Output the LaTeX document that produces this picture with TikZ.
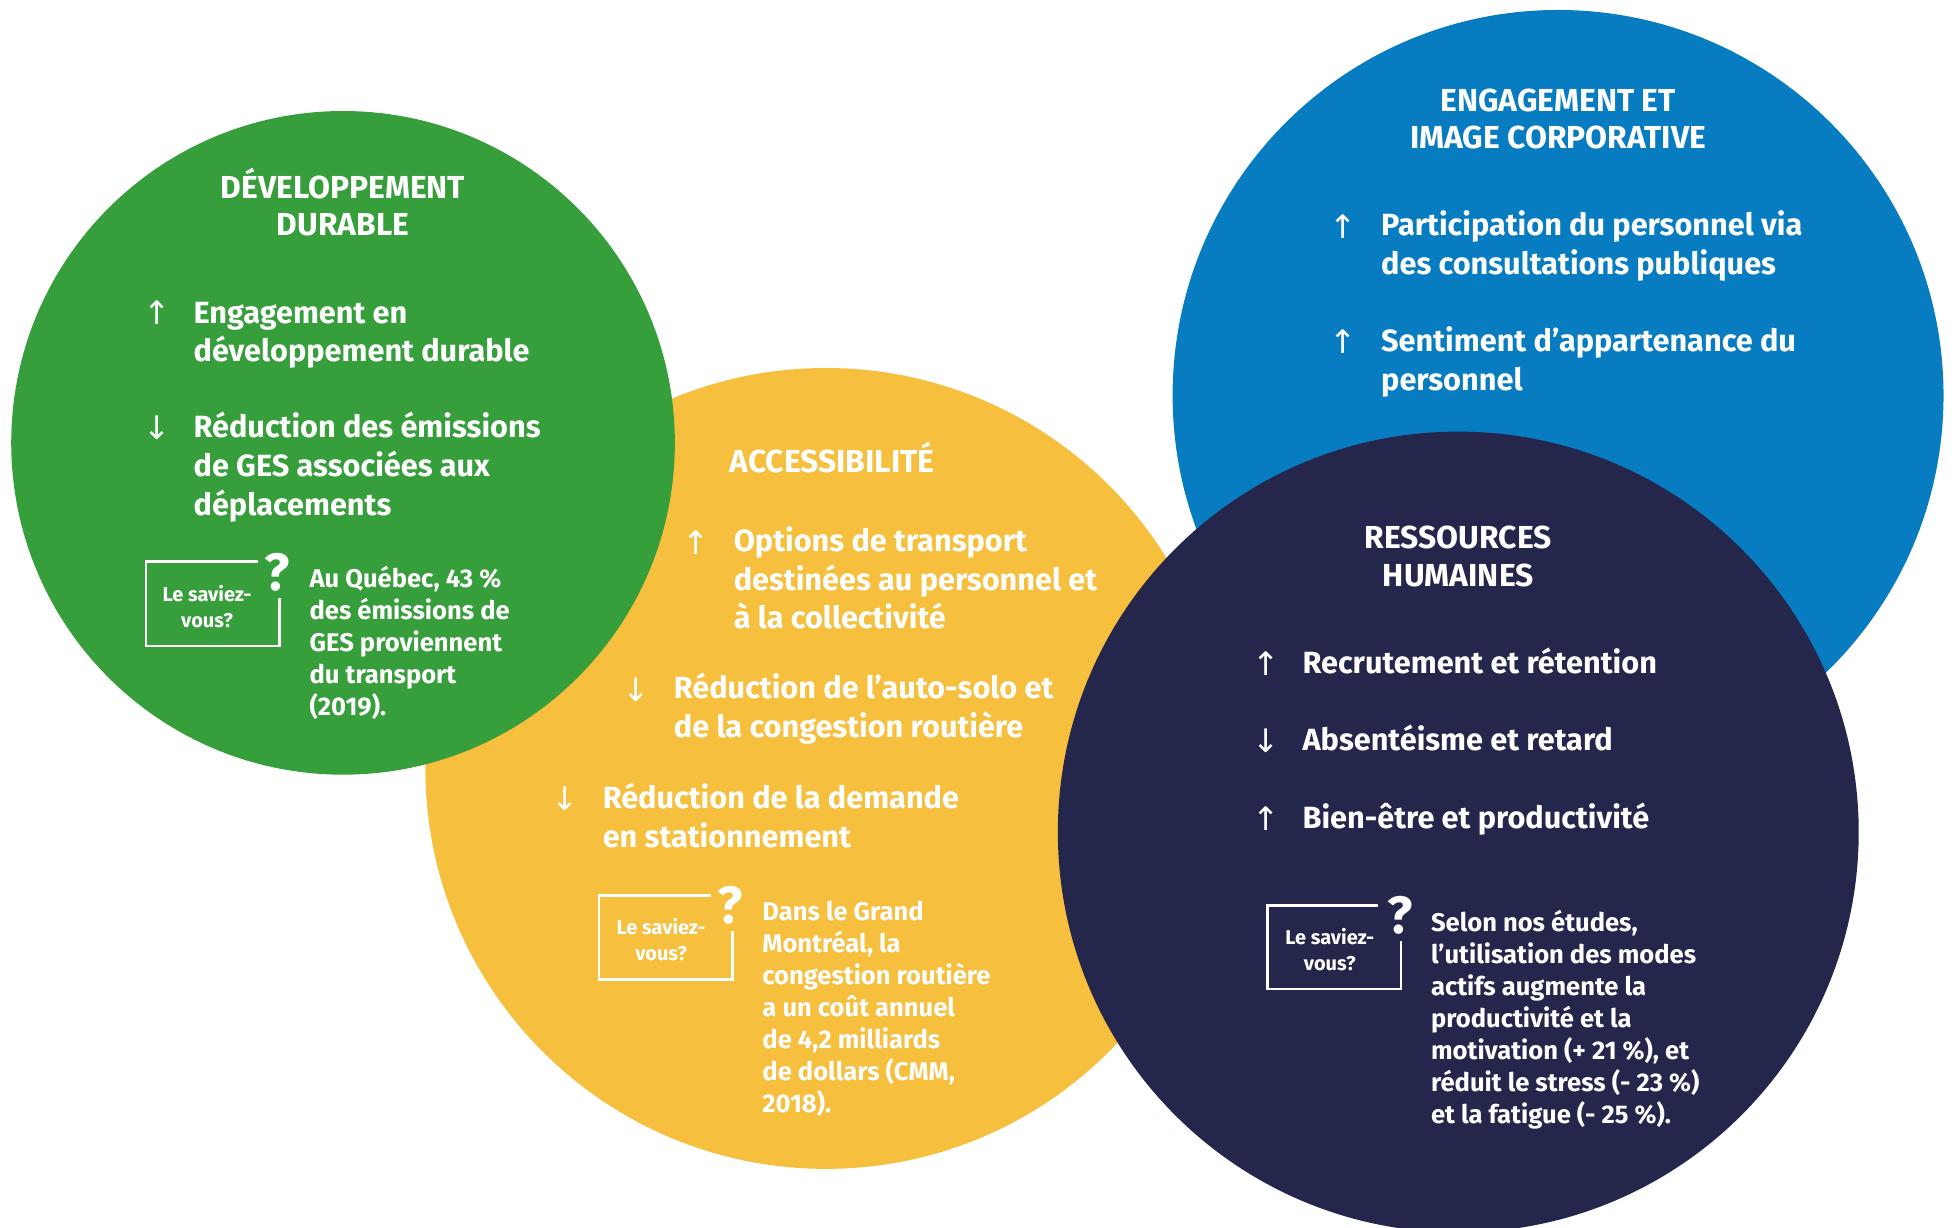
\documentclass[tikz,border=0pt]{standalone}
\usepackage{fontspec}
\setmainfont{Fira Sans}
\newfontfamily\symfont{DejaVu Sans}
\definecolor{cgreen}{RGB}{54,158,58}
\definecolor{cyellow}{RGB}{246,191,61}
\definecolor{cblue}{RGB}{8,124,193}
\definecolor{cnavy}{RGB}{36,38,76}
\tikzset{
  base/.style={text=white, inner sep=0pt},
  ttl/.style={base, align=center, anchor=base, font=\bfseries\fontsize{25.5}{30}\selectfont},
  item/.style={base, align=left, anchor=base west, font=\bfseries\fontsize{24.6}{31}\selectfont},
  fact/.style={base, align=left, anchor=base west, font=\bfseries\fontsize{20.5}{25.6}\selectfont},
  arr/.style={base, font=\symfont\fontsize{26}{26}\selectfont},
  quiz/.style={base, align=center, anchor=base, font=\bfseries\fontsize{16}{20.5}\selectfont},
  qmark/.style={base, font=\bfseries\fontsize{42}{42}\selectfont},
  boxline/.style={draw=white, line width=2pt},
}
\begin{document}
\begin{tikzpicture}[x=1pt,y=-1pt]
\useasboundingbox (0,0) rectangle (1568,984);
% circles
\fill[cyellow] (662,616) circle (321);
\fill[cgreen] (275,355) circle (266);
\fill[cblue] (1249,317) circle (309);
\fill[cnavy] (1169,667) circle (321);

% ---------- green ----------
\node[ttl] (gt) at (275,189) {DÉVELOPPEMENT\\DURABLE};
\node[arr] (ga1) at (126,251) {↑};
\node[item] (gi1) at (155,290) {Engagement en\\développement durable};
\node[arr] (ga2) at (126,343) {↓};
\node[item] (gi2) at (155,413) {Réduction des émissions\\de GES associées aux\\déplacements};
\draw[boxline] (207,450) -- (117,450) -- (117,518) -- (224,518) -- (224,479);
\node[qmark] (gq) at (222,459) {?};
\node[quiz] (gl) at (166,503) {Le saviez-\\vous?};
\node[fact] (gf) at (248,573.5) {Au Québec, 43 \%\\des émissions de\\GES proviennent\\du transport\\(2019).};

% ---------- yellow ----------
\node[ttl] (yt) at (667,379) {ACCESSIBILITÉ};
\node[arr] (ya1) at (558,435) {↑};
\node[item] (yi1) at (588,504) {Options de transport\\destinées au personnel et\\à la collectivité};
\node[arr] (ya2) at (510,553) {↓};
\node[item] (yi2) at (540,591) {Réduction de l’auto-solo et\\de la congestion routière};
\node[arr] (ya3) at (453,640) {↓};
\node[item] (yi3) at (483,679) {Réduction de la demande\\en stationnement};
\draw[boxline] (570,718) -- (480,718) -- (480,785) -- (587,785) -- (587,746);
\node[qmark] (yq) at (585,726) {?};
\node[quiz] (yl) at (530,770) {Le saviez-\\vous?};
\node[fact] (yf) at (611,891.5) {Dans le Grand\\Montréal, la\\congestion routière\\a un coût annuel\\de 4,2 milliards\\de dollars (CMM,\\2018).};

% ---------- blue ----------
\node[ttl] (bt) at (1249,119) {ENGAGEMENT ET\\IMAGE CORPORATIVE};
\node[arr] (ba1) at (1077,182) {↑};
\node[item] (bi1) at (1107,220) {Participation du personnel via\\des consultations publiques};
\node[arr] (ba2) at (1077,274) {↑};
\node[item] (bi2) at (1107,313) {Sentiment d’appartenance du\\personnel};

% ---------- navy ----------
\node[ttl] (nt) at (1169,470) {RESSOURCES\\HUMAINES};
\node[arr] (na1) at (1015,532) {↑};
\node[item] (ni1) at (1044,540) {Recrutement et rétention};
\node[arr] (na2) at (1015,594) {↓};
\node[item] (ni2) at (1044,602) {Absentéisme et retard};
\node[arr] (na3) at (1015,656) {↑};
\node[item] (ni3) at (1044,664) {Bien-être et productivité};
\draw[boxline] (1105,726) -- (1016,726) -- (1016,793) -- (1123,793) -- (1123,754);
\node[qmark] (nq) at (1122,734) {?};
\node[quiz] (nl) at (1066,778) {Le saviez-\\vous?};
\node[fact] (nf) at (1147,900.5) {Selon nos études,\\l’utilisation des modes\\actifs augmente la\\productivité et la\\motivation (+ 21 \%), et\\réduit le stress (- 23 \%)\\et la fatigue (- 25 \%).};
\end{tikzpicture}
\end{document}
